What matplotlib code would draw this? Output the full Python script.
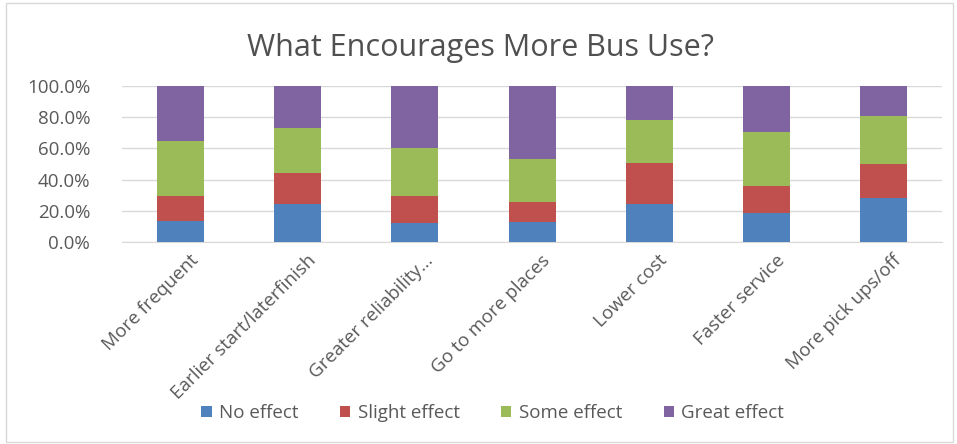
import matplotlib.pyplot as plt
import matplotlib.transforms as mtransforms
from matplotlib.patches import Rectangle
from matplotlib.ticker import PercentFormatter
import numpy as np

plt.rcParams['font.family'] = ['Open Sans', 'DejaVu Sans']

# Survey answers, share of respondents per option (%)
options = ['More frequent', 'Earlier start/laterfinish', 'Greater reliability...',
           'Go to more places', 'Lower cost', 'Faster service', 'More pick ups/off']
noEffect = [13.6, 24.3, 12.6, 13.2, 24.3, 18.9, 28.5]
slightEffect = [16.0, 19.7, 17.0, 12.8, 26.1, 17.1, 21.5]
someEffect = [35.1, 28.8, 30.4, 27.0, 27.7, 34.6, 30.6]
greatEffect = [35.3, 27.2, 40.0, 47.0, 21.9, 29.4, 19.4]

series = [('No effect', noEffect, '#4F81BD'),
          ('Slight effect', slightEffect, '#C0504D'),
          ('Some effect', someEffect, '#9BBB59'),
          ('Great effect', greatEffect, '#8064A2')]

fig = plt.figure(figsize=(9.57, 4.44), dpi=100)
ax = fig.add_axes([0.1275, 0.454, 0.857, 0.353])

index = np.arange(len(options))
bottom = np.zeros(len(options))
for name, values, colour in series:
    ax.bar(index, values, 0.4, bottom=bottom, color=colour, label=name, zorder=3)
    bottom += np.array(values)

ax.set_xlim(-0.5, len(options) - 0.5)
ax.set_ylim(0, 100)
ax.set_yticks(np.arange(0, 101, 20))
ax.yaxis.set_major_formatter(PercentFormatter(decimals=1))
ax.grid(axis='y', color='#D9D9D9', linewidth=1, zorder=0)
for side in ['top', 'right', 'left']:
    ax.spines[side].set_visible(False)
ax.spines['bottom'].set_color('#D9D9D9')
ax.tick_params(axis='y', length=0, labelsize=13.5, colors='#595959', pad=23)
ax.tick_params(axis='x', length=0, labelsize=13.5, colors='#595959', pad=10)
ax.set_xticks(index)
ax.set_xticklabels(options, rotation=45, ha='right', va='center_baseline',
                   rotation_mode='anchor')
shift = mtransforms.ScaledTranslation(0.14, 0, fig.dpi_scale_trans)
for label in ax.get_xticklabels():
    label.set_transform(label.get_transform() + shift)

fig.text(0.502, 0.893, 'What Encourages More Bus Use?', ha='center', va='center',
         fontsize=22, color='#505050')

fig.legend(loc='center', bbox_to_anchor=(0.515, 0.07), ncol=4, frameon=False,
           fontsize=13.5, handlelength=0.55, handleheight=0.55, columnspacing=2.2,
           handletextpad=0.4, labelcolor='#595959')

# chart border
fig.patches.append(Rectangle((0.006, 0.004), 0.99, 0.99, transform=fig.transFigure,
                             fill=False, edgecolor='#D9D9D9', linewidth=1))

fig.savefig('out.png', dpi=100)
